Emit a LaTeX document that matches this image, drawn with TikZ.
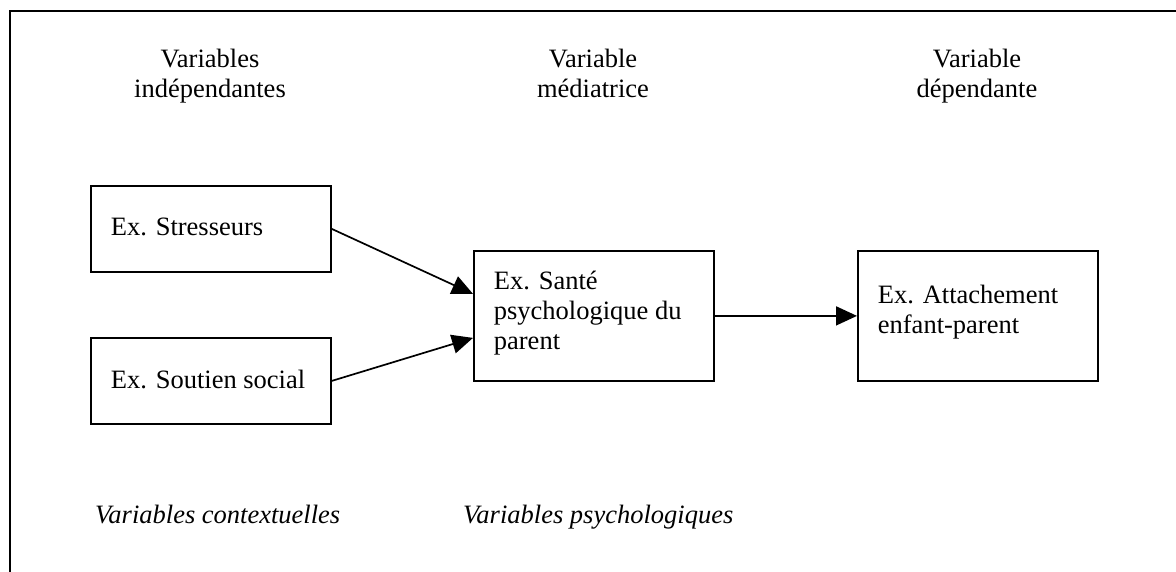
\documentclass[tikz,border=0pt]{standalone}
\usepackage{fontspec}
\setmainfont{Liberation Serif}
\usetikzlibrary{arrows.meta}
\newcommand{\bxtext}[3]{\parbox[c][#1][t]{240pt}{\raggedright\leftskip=20pt\relax\vspace*{#2}#3}}
\tikzset{
  every node/.style={font=\fontsize{26.5}{30}\selectfont},
  varbox/.style={draw, line width=1.8pt, inner sep=0pt, anchor=north west},
  heading/.style={align=center, inner sep=0pt, anchor=north},
  footlabel/.style={anchor=base west, inner sep=0pt, font=\fontsize{26.5}{30}\selectfont\itshape},
  arr/.style={line width=1.7pt, -{Triangle[length=21pt,width=19pt]}},
  frame/.style={line width=2.4pt}
}
\begin{document}
\begin{tikzpicture}[x=1pt,y=-1pt]
\useasboundingbox (0,0) rectangle (1176,572);
\coordinate (fr1) at (1176,11);
\coordinate (fr2) at (10,11);
\coordinate (fr3) at (10,572);
\draw[frame] (fr1) -- (fr2) -- (fr3);

\node[heading] (h1) at (210,49) {Variables\\indépendantes};
\node[heading] (h2) at (593,49) {Variable\\médiatrice};
\node[heading] (h3) at (977,49) {Variable\\dépendante};

\node[varbox] (b1) at (90,185) {\bxtext{86pt}{32pt}{Ex. Stresseurs}};
\node[varbox] (b2) at (90,337) {\bxtext{86pt}{32pt}{Ex. Soutien social}};
\node[varbox] (b3) at (473,250) {\bxtext{130pt}{20pt}{Ex. Santé\\psychologique du\\parent}};
\node[varbox] (b4) at (857,250) {\bxtext{130pt}{34pt}{Ex. Attachement\\enfant-parent}};

\node[footlabel] (l1) at (95,523) {Variables contextuelles};
\node[footlabel] (l2) at (463,523) {Variables psychologiques};

\draw[arr] (b1.east) -- ([yshift=22pt]b3.west);
\draw[arr] (b2.east) -- ([yshift=-22pt]b3.west);
\draw[arr] (b3.east) -- (b4.west);
\end{tikzpicture}
\end{document}
